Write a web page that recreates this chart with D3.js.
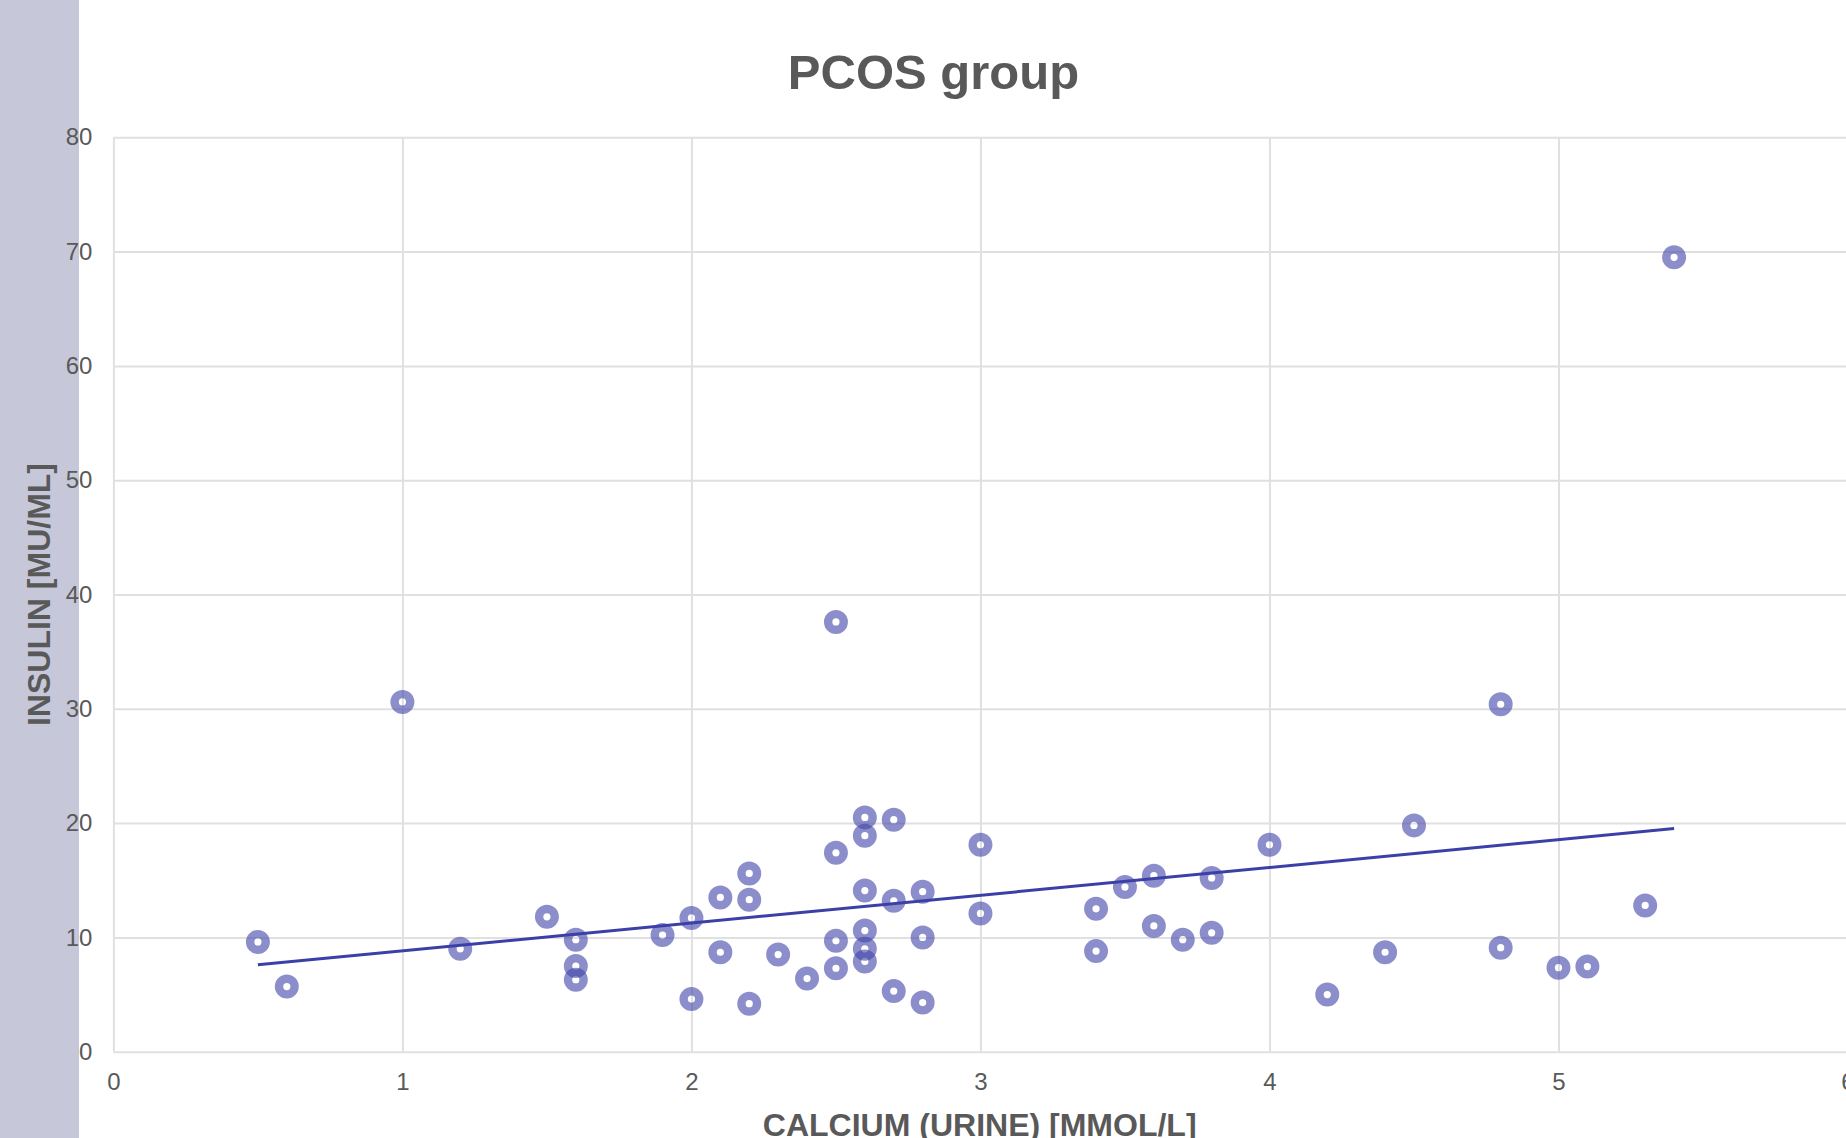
<!DOCTYPE html>
<html>
<head>
<meta charset="utf-8">
<script src="https://cdn.jsdelivr.net/npm/d3@7"></script>
<style>
  html, body { margin: 0; padding: 0; background: #fff; }
  svg { display: block; }
</style>
</head>
<body>
<div id="chart"></div>
<script>
// calcium (urine) [mmol/l]
const calcium = [0.5, 0.6, 1.0, 1.2, 1.5, 1.6, 1.6, 1.6, 1.9, 2.0, 2.0, 2.1, 2.1, 2.2, 2.2, 2.2,
  2.3, 2.4, 2.5, 2.5, 2.5, 2.5, 2.6, 2.6, 2.6, 2.6, 2.6, 2.6, 2.7, 2.7, 2.7, 2.8, 2.8, 2.8,
  3.0, 3.0, 3.4, 3.4, 3.5, 3.6, 3.6, 3.7, 3.8, 3.8, 4.0, 4.2, 4.4, 4.5, 4.8, 4.8, 5.0, 5.1, 5.3, 5.4];
// insulin [mU/ml]
const insulin = [9.6, 5.7, 30.6, 9.0, 11.8, 9.8, 7.5, 6.3, 10.2, 11.7, 4.6, 13.5, 8.7, 15.6, 13.3, 4.2,
  8.5, 6.4, 37.6, 17.4, 9.7, 7.3, 20.5, 18.9, 14.1, 10.6, 9.0, 7.9, 20.3, 13.2, 5.3, 14.0, 10.0, 4.3,
  18.1, 12.1, 12.5, 8.8, 14.4, 15.4, 11.0, 9.8, 15.2, 10.4, 18.1, 5.0, 8.7, 19.8, 30.4, 9.1, 7.35, 7.45, 12.8, 69.5];

const xTicks = [0, 1, 2, 3, 4, 5, 6];
const yTicks = [0, 10, 20, 30, 40, 50, 60, 70, 80];

const chartTitle = "PCOS group";
const xTitle = "CALCIUM (URINE) [MMOL/L]";
const yTitle = "INSULIN [MU/ML]";

const W = 1846, H = 1138;
const font = "'Liberation Sans', Arial, sans-serif";
const textColor = "#595959";
const gridColor = "#e0e0e0";

const svg = d3.select("#chart").append("svg")
  .attr("width", W)
  .attr("height", H);

svg.append("rect").attr("width", W).attr("height", H).attr("fill", "#fff");

// grey band on the left
svg.append("rect")
  .attr("x", 0).attr("y", 0)
  .attr("width", 79).attr("height", H)
  .attr("fill", "#c6c8da");

const x = d3.scaleLinear().domain([0, 6]).range([113.4, 1847.5]);
const y = d3.scaleLinear().domain([0, 80]).range([1051.7, 137.3]);

// y grid + labels
const yAxis = svg.append("g")
  .attr("transform", "translate(" + x(0) + ",0)")
  .call(d3.axisLeft(y).tickValues(yTicks).tickFormat(d3.format("d"))
    .tickSize(-(W - x(0))).tickPadding(21));
yAxis.select(".domain").remove();
yAxis.selectAll("line").attr("stroke", gridColor).attr("stroke-width", 2);
yAxis.selectAll("text")
  .attr("fill", textColor)
  .attr("font-family", font)
  .attr("font-size", 24);

// x grid + labels
const xAxis = svg.append("g")
  .attr("transform", "translate(0," + y(0) + ")")
  .call(d3.axisBottom(x).tickValues(xTicks).tickFormat(d3.format("d"))
    .tickSize(-(y(0) - y(80))).tickPadding(21));
xAxis.select(".domain").remove();
xAxis.selectAll("line").attr("stroke", gridColor).attr("stroke-width", 2);
xAxis.selectAll("text")
  .attr("fill", textColor)
  .attr("font-family", font)
  .attr("font-size", 24);

// markers
const pts = calcium.map((c, i) => ({ c: c, v: insulin[i] }));
svg.append("g")
  .selectAll("circle")
  .data(pts)
  .enter().append("circle")
  .attr("cx", d => x(d.c))
  .attr("cy", d => y(d.v))
  .attr("r", 7.8)
  .attr("fill", "none")
  .attr("stroke", "rgb(63,67,168)")
  .attr("stroke-opacity", 0.6)
  .attr("stroke-width", 8.4);

// linear trendline (least squares)
const mx = d3.mean(calcium), my = d3.mean(insulin);
const slope = d3.sum(calcium, (c, i) => (c - mx) * (insulin[i] - my)) /
  d3.sum(calcium, c => (c - mx) * (c - mx));
const icpt = my - slope * mx;
const ext = d3.extent(calcium);
const trend = ext.map(c => ({ c: c, v: icpt + slope * c }));

svg.append("path")
  .datum(trend)
  .attr("fill", "none")
  .attr("stroke", "#3b40a8")
  .attr("stroke-width", 3)
  .attr("d", d3.line().x(d => x(d.c)).y(d => y(d.v)));

// titles
svg.append("text")
  .attr("x", 933.5)
  .attr("y", 89)
  .attr("text-anchor", "middle")
  .attr("font-family", font)
  .attr("font-weight", "bold")
  .attr("font-size", 49)
  .attr("fill", textColor)
  .text(chartTitle);

svg.append("text")
  .attr("x", (x(0) + W) / 2)
  .attr("y", 1136)
  .attr("text-anchor", "middle")
  .attr("font-family", font)
  .attr("font-weight", "bold")
  .attr("font-size", 32)
  .attr("fill", textColor)
  .text(xTitle);

svg.append("text")
  .attr("transform", "translate(50," + ((y(0) + y(80)) / 2) + ") rotate(-90)")
  .attr("text-anchor", "middle")
  .attr("font-family", font)
  .attr("font-weight", "bold")
  .attr("font-size", 32)
  .attr("fill", textColor)
  .text(yTitle);
</script>
</body>
</html>
